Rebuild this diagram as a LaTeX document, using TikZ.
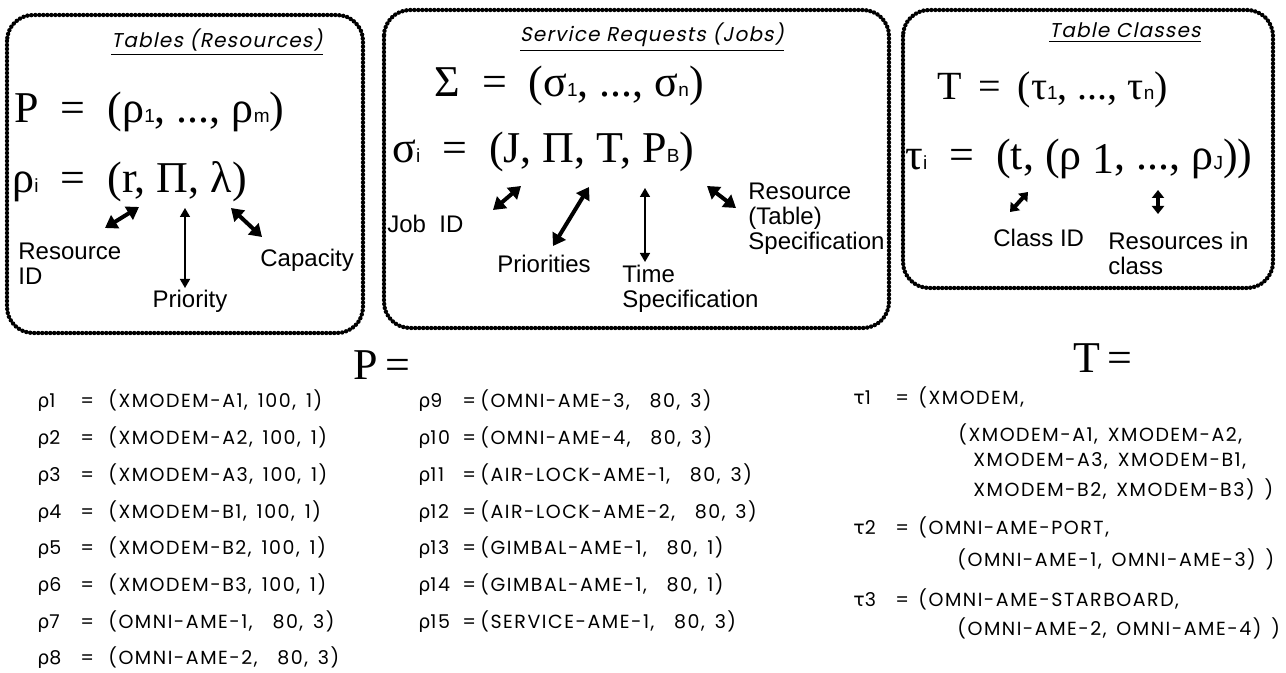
\documentclass[tikz,border=0pt]{standalone}
\usepackage{fontspec}
\usepackage{tikz}
\setmainfont{Liberation Serif}
\newfontfamily\labelfont{Liberation Sans}
\newfontfamily\listfont[LetterSpace=8, WordSpace=1.5]{Poppins}
\newfontfamily\headfont[FakeSlant=0.2, LetterSpace=6]{Poppins}
\newfontfamily\grkfont{DejaVu Sans}
\usetikzlibrary{arrows.meta}
\newcommand\sbs[1]{{\labelfont\fontsize{9.5}{9.5}\selectfont #1}}
\newcommand\rh{{\grkfont ρ}}
\newcommand\ta{{\grkfont τ}}

\begin{document}
\begin{tikzpicture}[x=0.5pt, y=-0.5pt,
  panel/.style={line width=2.2pt, line cap=round, dash pattern=on 0pt off 2pt, rounded corners=13pt},
  hdr/.style={font=\headfont\fontsize{10}{12}\selectfont, anchor=base, inner sep=0pt},
  formula/.style={font=\fontsize{22}{26}\selectfont, anchor=base west, inner sep=0pt},
  lbl/.style={font=\labelfont\fontsize{12}{12.5}\selectfont, align=left, anchor=base west, inner sep=0pt},
  entry/.style={font=\listfont\fontsize{9.5}{11}\selectfont, anchor=base west, inner sep=0pt},
  fat/.style={line width=2pt, {Triangle[width=7.5pt,length=6pt]}-{Triangle[width=7.5pt,length=6pt]}},
  stub/.style={line width=2pt, {Triangle[width=6pt,length=4pt]}-{Triangle[width=6pt,length=4pt]}},
  slim/.style={line width=0.8pt, {Triangle[width=5pt,length=4.5pt]}-{Triangle[width=5pt,length=4.5pt]}}]
  \useasboundingbox (0,0) rectangle (1286,673);

  % Tables (Resources)
  \draw[panel] (7,15) rectangle (363,333);
  \node[hdr] (h1) at (217,48) {\underline{Tables (Resources)}};
  \node[formula] (p) at (14,123) {P\enspace=\enspace(ρ\sbs{1}, ..., ρ\sbs{m})};
  \node[formula] (rho) at (12,193) {ρ\sbs{i}\enspace=\enspace(r, Π, λ)};
  \draw[fat] (105,228) coordinate (rid1) -- (139,207) coordinate (rid2);
  \draw[slim] (185,208) coordinate (pri1) -- (185,288) coordinate (pri2);
  \draw[fat] (231,208) coordinate (cap1) -- (262,237) coordinate (cap2);
  \node[lbl] (rid) at (18,285) {Resource\\ID};
  \node[lbl, anchor=base] (pri) at (190,308) {Priority};
  \node[lbl] (cap) at (260,267) {Capacity};

  % Service Requests (Jobs)
  \draw[panel] (384,10) rectangle (889,328);
  \node[hdr] (h2) at (652,42) {\underline{Service Requests (Jobs)}};
  \node[formula] (sig) at (434,97) {Σ\enspace=\enspace(σ\sbs{1}, ..., σ\sbs{n})};
  \node[formula] (sigi) at (392,163) {σ\sbs{i}\enspace=\enspace(J, Π, T, P\sbs{B})};
  \draw[fat] (493,210) coordinate (job1) -- (521,186) coordinate (job2);
  \draw[fat] (553,246) coordinate (prs1) -- (589,187) coordinate (prs2);
  \draw[slim] (645,188) coordinate (tim1) -- (645,262) coordinate (tim2);
  \draw[fat] (707,186) coordinate (res1) -- (736,208) coordinate (res2);
  \node[lbl] (job) at (387,233) {Job\ \ ID};
  \node[lbl] (prs) at (497,273) {Priorities};
  \node[lbl] (tim) at (622,308) {Time\\Specification};
  \node[lbl] (res) at (748,250) {Resource\\(Table)\\Specification};

  % Table Classes
  \draw[panel] (903,10) rectangle (1273,288);
  \node[hdr] (h3) at (1125,38) {\underline{Table Classes}};
  \node[formula, font=\fontsize{20}{24}\selectfont] (tt) at (937,100) {T\ \,=\ \,(τ\sbs{1}, ..., τ\sbs{n})};
  \node[formula] (tau) at (905,170) {τ\sbs{i}\enspace=\enspace(t, (ρ\ \raisebox{-2pt}{1}, ..., ρ\sbs{J}))};
  \draw[stub] (1010,212) coordinate (cid1) -- (1028,192) coordinate (cid2);
  \draw[stub] (1158,190) coordinate (ric1) -- (1158,214) coordinate (ric2);
  \node[lbl] (cid) at (993,247) {Class ID};
  \node[lbl] (ric) at (1108,275) {Resources in\\class};

  % P =
  \node[formula] (pe) at (353,380) {P\,=};
  \foreach \n/\txt in {1/{XMODEM-A1, 100, 1}, 2/{XMODEM-A2, 100, 1}, 3/{XMODEM-A3, 100, 1},
      4/{XMODEM-B1, 100, 1}, 5/{XMODEM-B2, 100, 1}, 6/{XMODEM-B3, 100, 1},
      7/{OMNI-AME-1,\ \ 80, 3}, 8/{OMNI-AME-2,\ \ 80, 3}}
    \node[entry] (r\n) at (37,{408+36.7*(\n-1)})
      {\makebox[21.5pt][l]{\rh\n}\makebox[14pt][l]{=}(\txt)};
  \foreach \n/\txt/\k in {9/{OMNI-AME-3,\ \ 80, 3}/1, 10/{OMNI-AME-4,\ \ 80, 3}/2,
      11/{AIR-LOCK-AME-1,\ \ 80, 3}/3, 12/{AIR-LOCK-AME-2,\ \ 80, 3}/4,
      13/{GIMBAL-AME-1,\ \ 80, 1}/5, 14/{GIMBAL-AME-1,\ \ 80, 1}/6,
      15/{SERVICE-AME-1,\ \ 80, 3}/7}
    \node[entry] (r\n) at (418,{408+36.7*(\k-1)})
      {\makebox[22pt][l]{\rh\n}\makebox[9pt][l]{=}(\txt)};

  % T =
  \node[formula] (te) at (1073,373) {T\,=};
  \node[entry] (t1) at (853,405) {\makebox[21pt][l]{\ta1}\makebox[11.5pt][l]{=}(XMODEM,};
  \node[entry] (t1a) at (958,442) {(XMODEM-A1, XMODEM-A2,};
  \node[entry] (t1b) at (973,467) {XMODEM-A3, XMODEM-B1,};
  \node[entry] (t1c) at (973,497) {XMODEM-B2, XMODEM-B3) )};
  \node[entry] (t2) at (853,535) {\makebox[21pt][l]{\ta2}\makebox[11.5pt][l]{=}(OMNI-AME-PORT,};
  \node[entry] (t2a) at (957,567) {(OMNI-AME-1, OMNI-AME-3) )};
  \node[entry] (t3) at (853,607) {\makebox[21pt][l]{\ta3}\makebox[11.5pt][l]{=}(OMNI-AME-STARBOARD,};
  \node[entry] (t3a) at (957,635) {(OMNI-AME-2, OMNI-AME-4) )};
\end{tikzpicture}
\end{document}
